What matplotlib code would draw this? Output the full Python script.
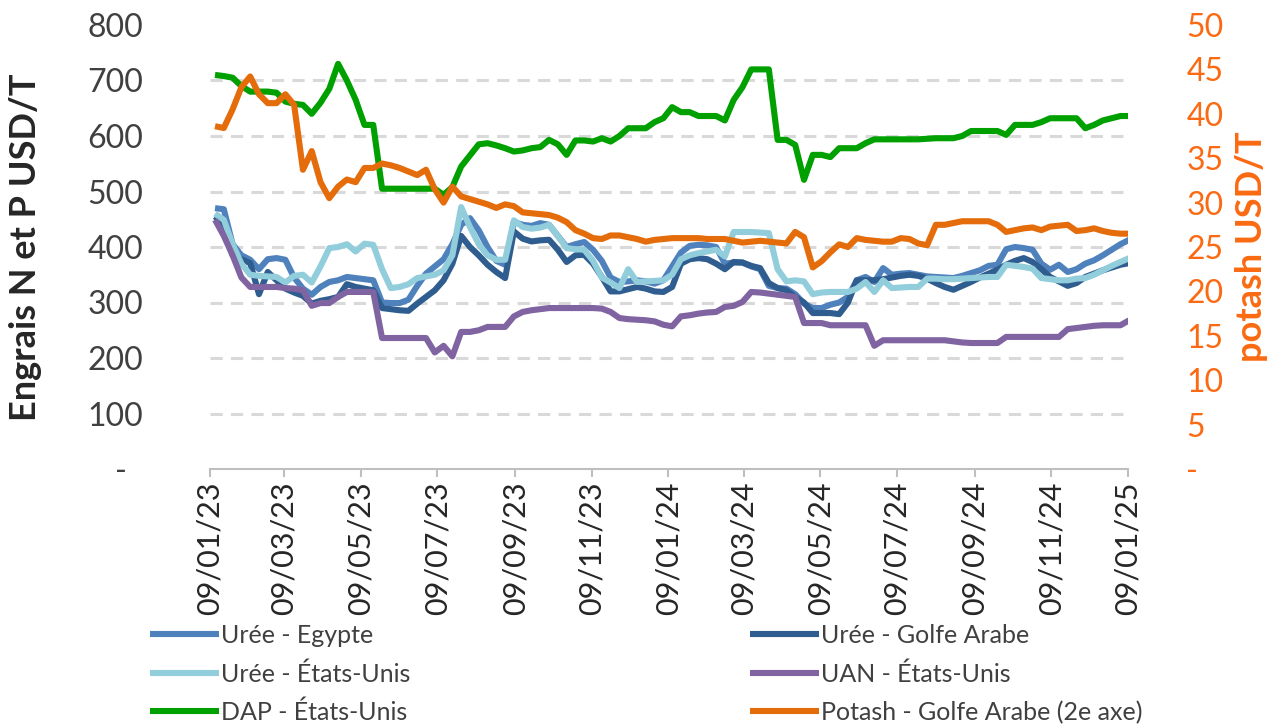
import matplotlib
matplotlib.use("Agg")
import matplotlib.pyplot as plt
import matplotlib.dates as mdates
import pandas as pd
from matplotlib import font_manager

# weekly observations
dates = pd.date_range("2023-01-13", periods=105, freq="7D")

uree_egypte = [470, 468, 405, 385, 377, 360, 378, 380, 377, 345,
               325, 314, 328, 337, 340, 346, 344, 342, 340, 300,
               299, 299, 305, 330, 352, 365, 378, 405, 440, 452,
               430, 400, 375, 368, 445, 440, 438, 443, 440, 420,
               400, 405, 409, 395, 375, 345, 337, 338, 340, 338,
               334, 340, 365, 390, 402, 404, 403, 400, 370, 372,
               372, 365, 360, 330, 326, 325, 315, 298, 290, 290,
               296, 300, 310, 340, 346, 337, 362, 350, 352, 353,
               350, 347, 346, 345, 344, 348, 353, 358, 366, 368,
               396, 400, 398, 395, 370, 359, 368, 355, 360, 370,
               376, 385, 395, 405, 413]

uree_golfe = [455, 440, 385, 378, 371, 315, 355, 340, 325, 318,
              312, 298, 303, 306, 310, 333, 328, 325, 322, 290,
              288, 286, 285, 298, 310, 322, 340, 370, 420, 400,
              385, 368, 355, 344, 428, 415, 410, 412, 413, 395,
              373, 385, 386, 370, 346, 320, 320, 324, 328, 325,
              320, 319, 328, 370, 378, 380, 378, 370, 360, 373,
              372, 366, 362, 335, 326, 322, 310, 300, 281, 281,
              281, 279, 300, 340, 340, 340, 342, 345, 348, 350,
              348, 343, 335, 328, 323, 330, 337, 345, 352, 359,
              368, 375, 380, 373, 360, 346, 338, 330, 335, 346,
              352, 358, 363, 368, 371]

uree_eu = [460, 449, 405, 370, 350, 348, 347, 346, 336, 348,
           350, 336, 365, 398, 400, 405, 392, 406, 404, 360,
           326, 328, 333, 344, 347, 350, 358, 385, 472, 436,
           405, 385, 377, 377, 448, 436, 433, 435, 440, 420,
           398, 396, 395, 375, 345, 336, 326, 360, 337, 338,
           339, 340, 350, 378, 385, 389, 392, 395, 383, 427,
           427, 427, 426, 425, 360, 338, 340, 338, 315, 318,
           319, 319, 319, 325, 337, 319, 340, 326, 327, 328,
           328, 343, 343, 342, 342, 343, 344, 345, 346, 346,
           368, 366, 364, 361, 344, 342, 340, 340, 343, 344,
           350, 358, 366, 373, 380]

uan_eu = [449, 420, 385, 345, 328, 328, 328, 328, 326, 325,
          322, 294, 299, 299, 310, 319, 319, 319, 319, 236,
          236, 236, 236, 236, 236, 210, 222, 203, 247, 247,
          250, 256, 256, 256, 275, 283, 286, 288, 290, 290,
          290, 290, 290, 290, 289, 283, 272, 270, 269, 268,
          266, 260, 257, 275, 277, 280, 282, 283, 292, 294,
          301, 319, 318, 316, 314, 312, 310, 263, 263, 263,
          259, 259, 259, 259, 259, 222, 232, 232, 232, 232,
          232, 232, 232, 232, 230, 228, 227, 227, 227, 227,
          238, 238, 238, 238, 238, 238, 238, 252, 254, 256,
          258, 259, 259, 259, 268]

dap_eu = [710, 708, 705, 690, 680, 680, 680, 678, 662, 658,
          656, 640, 660, 685, 730, 700, 665, 620, 620, 505,
          505, 505, 505, 505, 505, 505, 494, 508, 545, 565,
          585, 587, 583, 578, 572, 574, 578, 580, 593, 585,
          566, 592, 592, 590, 596, 590, 600, 614, 614, 614,
          625, 632, 652, 643, 643, 636, 636, 636, 628, 665,
          688, 720, 720, 720, 593, 593, 584, 521, 566, 566,
          562, 578, 578, 578, 587, 594, 594, 594, 594, 594,
          594, 595, 596, 596, 596, 600, 609, 609, 609, 609,
          602, 620, 620, 620, 625, 632, 632, 632, 632, 614,
          620, 628, 632, 636, 636]

potash_golfe = [38.6, 38.4, 40.5, 43.0, 44.2, 42.2, 41.2, 41.2, 42.2, 41.0,
                33.7, 35.8, 32.3, 30.5, 31.8, 32.6, 32.3, 33.9, 33.9, 34.4,
                34.2, 33.9, 33.5, 33.1, 33.7, 31.5, 30.0, 31.8, 30.7, 30.4,
                30.1, 29.8, 29.4, 29.8, 29.6, 28.9, 28.8, 28.7, 28.6, 28.3,
                27.8, 26.9, 26.5, 26.0, 25.9, 26.3, 26.3, 26.1, 25.9, 25.6,
                25.8, 25.9, 26.0, 26.0, 26.0, 26.0, 25.9, 25.9, 25.9, 25.7,
                25.5, 25.6, 25.7, 25.6, 25.5, 25.4, 26.7, 26.1, 22.7, 23.4,
                24.4, 25.3, 25.0, 26.0, 25.8, 25.7, 25.6, 25.6, 26.0, 25.9,
                25.4, 25.2, 27.5, 27.5, 27.7, 27.9, 27.9, 27.9, 27.9, 27.5,
                26.7, 26.9, 27.1, 27.2, 26.9, 27.3, 27.4, 27.5, 26.8, 26.9,
                27.1, 26.8, 26.6, 26.5, 26.5]

series_left = [
    ("Urée - Egypte", uree_egypte, "#4f81bd"),
    ("Urée - Golfe Arabe", uree_golfe, "#2f5d8f"),
    ("Urée - États-Unis", uree_eu, "#92cddc"),
    ("UAN - États-Unis", uan_eu, "#8064a2"),
    ("DAP - États-Unis", dap_eu, "#00a000"),
]
potash_label = "Potash - Golfe Arabe (2e axe)"
potash_color = "#e46c0a"

# ticks on the 9th of every other month
tick_dates = pd.date_range("2023-01-01", "2025-01-01", freq="2MS") + pd.Timedelta(days=8)

installed = {f.name for f in font_manager.fontManager.ttflist}
main_font = "Lato" if "Lato" in installed else "DejaVu Sans"
plt.rcParams["font.family"] = [main_font, "DejaVu Sans"]

fig = plt.figure(figsize=(12.72, 7.24), dpi=100)
ax = fig.add_axes([210 / 1272, 1 - 469 / 724, (1128 - 210) / 1272, (469 - 25) / 724])
ax2 = ax.twinx()

handles = {}
for name, vals, col in series_left:
    h, = ax.plot(dates, vals, color=col, lw=4.4, solid_joinstyle="round",
                 solid_capstyle="butt", label=name)
    handles[name] = h
h, = ax2.plot(dates, potash_golfe, color=potash_color, lw=4.4,
              solid_joinstyle="round", solid_capstyle="butt", label=potash_label)
handles[potash_label] = h

ax.set_xlim(pd.Timestamp("2023-01-09"), pd.Timestamp("2025-01-09"))
ax.set_ylim(0, 800)
ax2.set_ylim(0, 50)

ax.set_yticks(range(0, 801, 100))
ax.set_yticklabels(["-  "] + [str(v) for v in range(100, 801, 100)])
ax2.set_yticks(range(0, 51, 5))
ax2.set_yticklabels(["-"] + [str(v) for v in range(5, 51, 5)])

ax.yaxis.grid(True, color="#d9d9d9", lw=2.2, dashes=(4, 2.7))
gl = ax.get_ygridlines()
gl[0].set_visible(False)
gl[-1].set_visible(False)
ax.set_axisbelow(True)

ax.set_xticks(tick_dates)
ax.xaxis.set_major_formatter(mdates.DateFormatter("%d/%m/%y"))
plt.setp(ax.get_xticklabels(), rotation=90)

for a in (ax, ax2):
    for s in ("top", "left", "right"):
        a.spines[s].set_visible(False)
ax2.spines["bottom"].set_visible(False)
ax.spines["bottom"].set_color("#bfbfbf")
ax.spines["bottom"].set_linewidth(1.5)

ax.tick_params(axis="x", length=6, width=1.5, color="#bfbfbf", labelsize=22,
               labelcolor="#262626", pad=3)
ax.tick_params(axis="y", length=0, labelsize=23, labelcolor="#404040", pad=48)
ax2.tick_params(axis="y", length=0, labelsize=23, labelcolor="#fb6a12", pad=42)

ax.set_ylabel("Engrais N et P USD/T", fontsize=26, fontweight="bold", color="#262626")
ax.yaxis.set_label_coords(-0.183, 0.5)
ax2.set_ylabel("potash USD/T", fontsize=26, fontweight="bold", color="#fb6a12")
ax2.yaxis.set_label_coords(1.117, 0.5)

order1 = ["Urée - Egypte", "Urée - États-Unis", "DAP - États-Unis"]
order2 = ["Urée - Golfe Arabe", "UAN - États-Unis", potash_label]
for names, x0 in ((order1, 150 / 1272), (order2, 750 / 1272)):
    leg = fig.legend([handles[n] for n in names], names, loc="upper left",
                     bbox_to_anchor=(x0, 1 - 624 / 724), frameon=False,
                     borderpad=0, borderaxespad=0, handlelength=2.75,
                     handletextpad=0.1, labelspacing=0.6,
                     prop={"size": 18})
    for t in leg.get_texts():
        t.set_color("#404040")

fig.savefig("out.png", dpi=100)
